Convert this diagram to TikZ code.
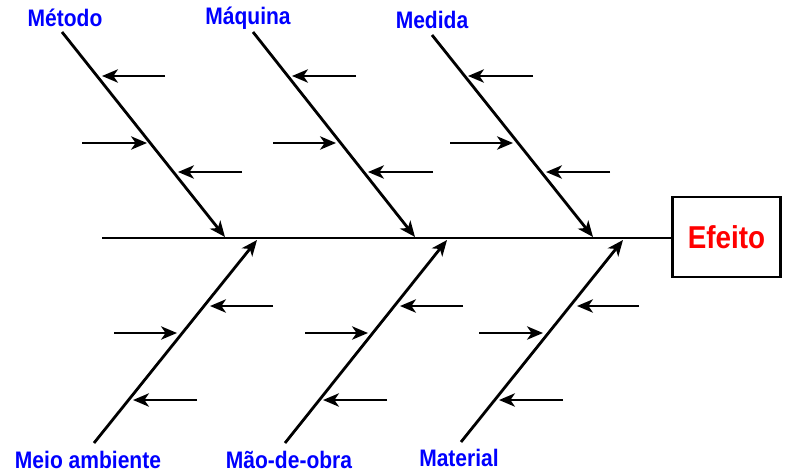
\documentclass[tikz,border=0pt]{standalone}
\usepackage{fontspec}
\setmainfont{Liberation Sans}
\newfontfamily\condensado[FakeStretch=0.88]{Liberation Sans}
\usetikzlibrary{arrows.meta,positioning}
\definecolor{Causa}{RGB}{0,0,255}
\definecolor{Vermelho}{RGB}{255,0,0}

\begin{document}
\begin{tikzpicture}[x=0.02cm,y=-0.02cm,
  espinha/.style={line width=1.5pt},
  osso/.style={line width=1.6pt,-{Stealth[length=9pt,width=7.5pt,inset=2.5pt]}},
  causa/.style={text=Causa,font=\condensado\bfseries\fontsize{13.6}{15}\selectfont},
  efeito/.style={draw,line width=1.5pt,minimum width=2.16cm,minimum height=1.6cm,
    text=Vermelho,font=\condensado\bfseries\fontsize{18}{20}\selectfont}]
\useasboundingbox (0,0) rectangle (786,473);
% categorias
\node[causa] (metodo)  at (65,18)  {Método};
\node[causa] (maquina) at (248,18) {Máquina};
\node[causa] (medida)  at (432,20) {Medida};
\node[causa] (meio)    at (88,460) {Meio ambiente};
\node[causa] (mao)     at (289,460) {Mão-de-obra};
\node[causa] (material) at (459,458) {Material};
\node[efeito] (efeito) at (726.5,237) {Efeito};
%
% espinha
\coordinate (cabeca) at (102,238);
\draw[espinha] (cabeca) -- (cabeca -| efeito.west);
%
% ossos de cima
\coordinate (m1) at (62,32);   \coordinate (m1e) at (225,237);
\coordinate (m2) at (253,32);  \coordinate (m2e) at (415,237);
\coordinate (m3) at (432,35);  \coordinate (m3e) at (593,237);
\draw[osso] (m1) -- (m1e);
\draw[osso] (m2) -- (m2e);
\draw[osso] (m3) -- (m3e);
% ossos de baixo
\coordinate (b1) at (94,443);  \coordinate (b1e) at (257,240);
\coordinate (b2) at (285,443); \coordinate (b2e) at (447,240);
\coordinate (b3) at (461,442); \coordinate (b3e) at (623,240);
\draw[osso] (b1) -- (b1e);
\draw[osso] (b2) -- (b2e);
\draw[osso] (b3) -- (b3e);
%
% subcausas
\draw[osso] (165,76) -- (102,76);
\draw[osso] (82,143) -- (147,143);
\draw[osso] (242,172) -- (178,172);
\draw[osso] (356,76) -- (292,76);
\draw[osso] (273,143) -- (336,143);
\draw[osso] (433,172) -- (368,172);
\draw[osso] (533,76) -- (468,76);
\draw[osso] (450,143) -- (513,143);
\draw[osso] (610,172) -- (546,172);
%
\draw[osso] (273,306) -- (210,306);
\draw[osso] (114,333) -- (177,333);
\draw[osso] (197,400) -- (133,400);
\draw[osso] (463,306) -- (400,306);
\draw[osso] (305,333) -- (368,333);
\draw[osso] (387,400) -- (323,400);
\draw[osso] (639,306) -- (577,306);
\draw[osso] (479,333) -- (543,333);
\draw[osso] (563,400) -- (499,400);
\end{tikzpicture}
\end{document}
